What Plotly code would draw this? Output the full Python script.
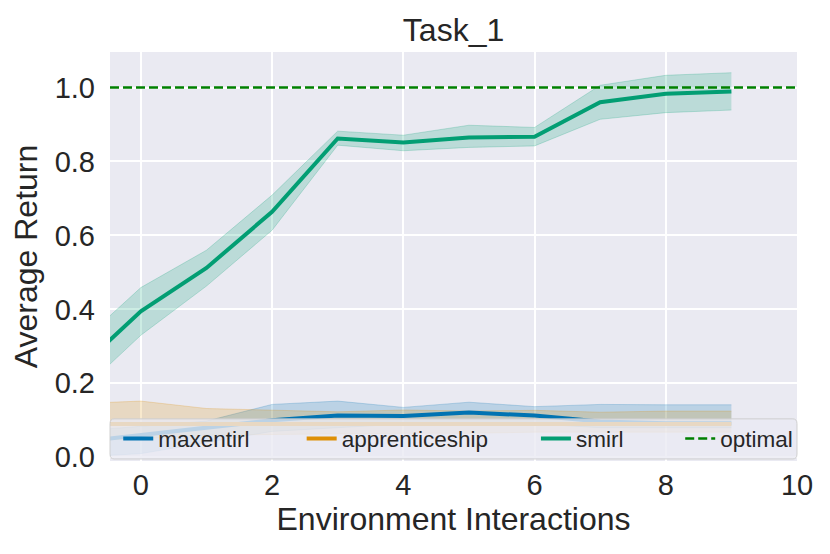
import plotly.graph_objects as go

# ---- data ----
STEPS = [-1, 0, 1, 2, 3, 4, 5, 6, 7, 8, 9]

SMIRL_MEAN = [0.23, 0.395, 0.512, 0.664, 0.862, 0.851, 0.865, 0.867, 0.960, 0.983, 0.989]
SMIRL_LO = [0.164, 0.330, 0.463, 0.614, 0.844, 0.829, 0.838, 0.842, 0.914, 0.932, 0.939]
SMIRL_HI = [0.297, 0.459, 0.560, 0.709, 0.882, 0.871, 0.898, 0.892, 1.006, 1.033, 1.040]

MAXENT_MEAN = [0.04, 0.06, 0.082, 0.100, 0.113, 0.112, 0.121, 0.113, 0.097, 0.092, 0.092]
MAXENT_LO = [0.0, 0.01, 0.04, 0.07, 0.08, 0.09, 0.09, 0.09, 0.08, 0.08, 0.08]
MAXENT_HI = [0.07, 0.085, 0.098, 0.143, 0.152, 0.135, 0.149, 0.137, 0.143, 0.142, 0.142]

APPR_MEAN = [0.09, 0.09, 0.09, 0.088, 0.088, 0.09, 0.09, 0.09, 0.09, 0.09, 0.09]
APPR_LO = [0.045, 0.05, 0.06, 0.062, 0.062, 0.065, 0.065, 0.068, 0.068, 0.068, 0.068]
APPR_HI = [0.145, 0.152, 0.132, 0.128, 0.123, 0.128, 0.125, 0.127, 0.122, 0.125, 0.125]

OPTIMAL = 1.0
X_RANGE = [-0.47, 10]
Y_RANGE = [-0.01, 1.096]
X_TICKS = [0, 2, 4, 6, 8, 10]
Y_TICKS = [0.0, 0.2, 0.4, 0.6, 0.8, 1.0]

COLORS = {'maxentirl': (1, 115, 178), 'apprenticeship': (222, 143, 5), 'smirl': (2, 158, 115)}
SERIES = [('maxentirl', MAXENT_MEAN, MAXENT_LO, MAXENT_HI, 'legend'),
          ('apprenticeship', APPR_MEAN, APPR_LO, APPR_HI, 'legend2'),
          ('smirl', SMIRL_MEAN, SMIRL_LO, SMIRL_HI, 'legend3')]

FONT = 'Liberation Sans, Arial, sans-serif'
INK = '#262626'

fig = go.Figure()
for name, mean, lo, hi, leg in SERIES:                       # confidence bands first
    r, g, b = COLORS[name]
    fig.add_trace(go.Scatter(x=STEPS, y=lo, mode='lines',
                             line=dict(color=f'rgba({r},{g},{b},0.22)', width=1),
                             showlegend=False, hoverinfo='skip'))
    fig.add_trace(go.Scatter(x=STEPS, y=hi, mode='lines', fill='tonexty',
                             fillcolor=f'rgba({r},{g},{b},0.2)',
                             line=dict(color=f'rgba({r},{g},{b},0.22)', width=1),
                             showlegend=False, hoverinfo='skip'))
for name, mean, lo, hi, leg in SERIES:                       # mean lines on top
    r, g, b = COLORS[name]
    fig.add_trace(go.Scatter(x=STEPS, y=mean, mode='lines', name=name, legend=leg,
                             line=dict(color=f'rgb({r},{g},{b})', width=4)))

fig.add_trace(go.Scatter(x=X_RANGE, y=[OPTIMAL, OPTIMAL], mode='lines', name='optimal',
                         legend='legend4', line=dict(color='#008000', width=2.5, dash='9px,4px')))

# legend frame (matplotlib fancybox: rounded, semi-transparent, full axes width)
x0, x1, y0, y1, rx, ry = 0.0, 1.0, 0.005, 0.103, 0.006, 0.012
frame = (f'M{x0 + rx},{y0} L{x1 - rx},{y0} Q{x1},{y0} {x1},{y0 + ry} '
         f'L{x1},{y1 - ry} Q{x1},{y1} {x1 - rx},{y1} L{x0 + rx},{y1} '
         f'Q{x0},{y1} {x0},{y1 - ry} L{x0},{y0 + ry} Q{x0},{y0} {x0 + rx},{y0} Z')
fig.add_shape(type='path', path=frame, xref='paper', yref='paper', layer='above',
              fillcolor='rgba(234,234,242,0.8)', line=dict(color='rgba(204,204,204,0.9)', width=1))

leg_common = dict(orientation='h', yanchor='middle', y=0.054, xanchor='left',
                  bgcolor='rgba(0,0,0,0)', font=dict(family=FONT, size=22.5, color=INK))

axis_common = dict(showgrid=True, gridcolor='white', gridwidth=1.6, zeroline=False,
                   showline=False, ticks='', tickfont=dict(family=FONT, size=29, color=INK))

# page body has an 8px margin, so the figure is 8px smaller and margins shifted
fig.update_layout(
    width=822, height=546,
    paper_bgcolor='white', plot_bgcolor='#EAEAF2',
    margin=dict(l=102, r=33, t=44, b=93),
    title=dict(text='Task_1', x=0.542, xanchor='center', y=0.96, yanchor='middle',
               font=dict(family=FONT, size=32, color=INK)),
    xaxis=dict(**axis_common, range=X_RANGE, tickvals=X_TICKS, ticklabelstandoff=4,
               title=dict(text='Environment Interactions', standoff=4,
                          font=dict(family=FONT, size=32, color=INK))),
    yaxis=dict(**axis_common, range=Y_RANGE, tickvals=Y_TICKS, tickformat='.1f',
               ticklabelstandoff=14,
               title=dict(text='Average Return', standoff=10,
                          font=dict(family=FONT, size=32, color=INK))),
    legend=dict(**leg_common, x=0.012),
    legend2=dict(**leg_common, x=0.279),
    legend3=dict(**leg_common, x=0.620),
    legend4=dict(**leg_common, x=0.830),
)

fig.write_html('out.html')
